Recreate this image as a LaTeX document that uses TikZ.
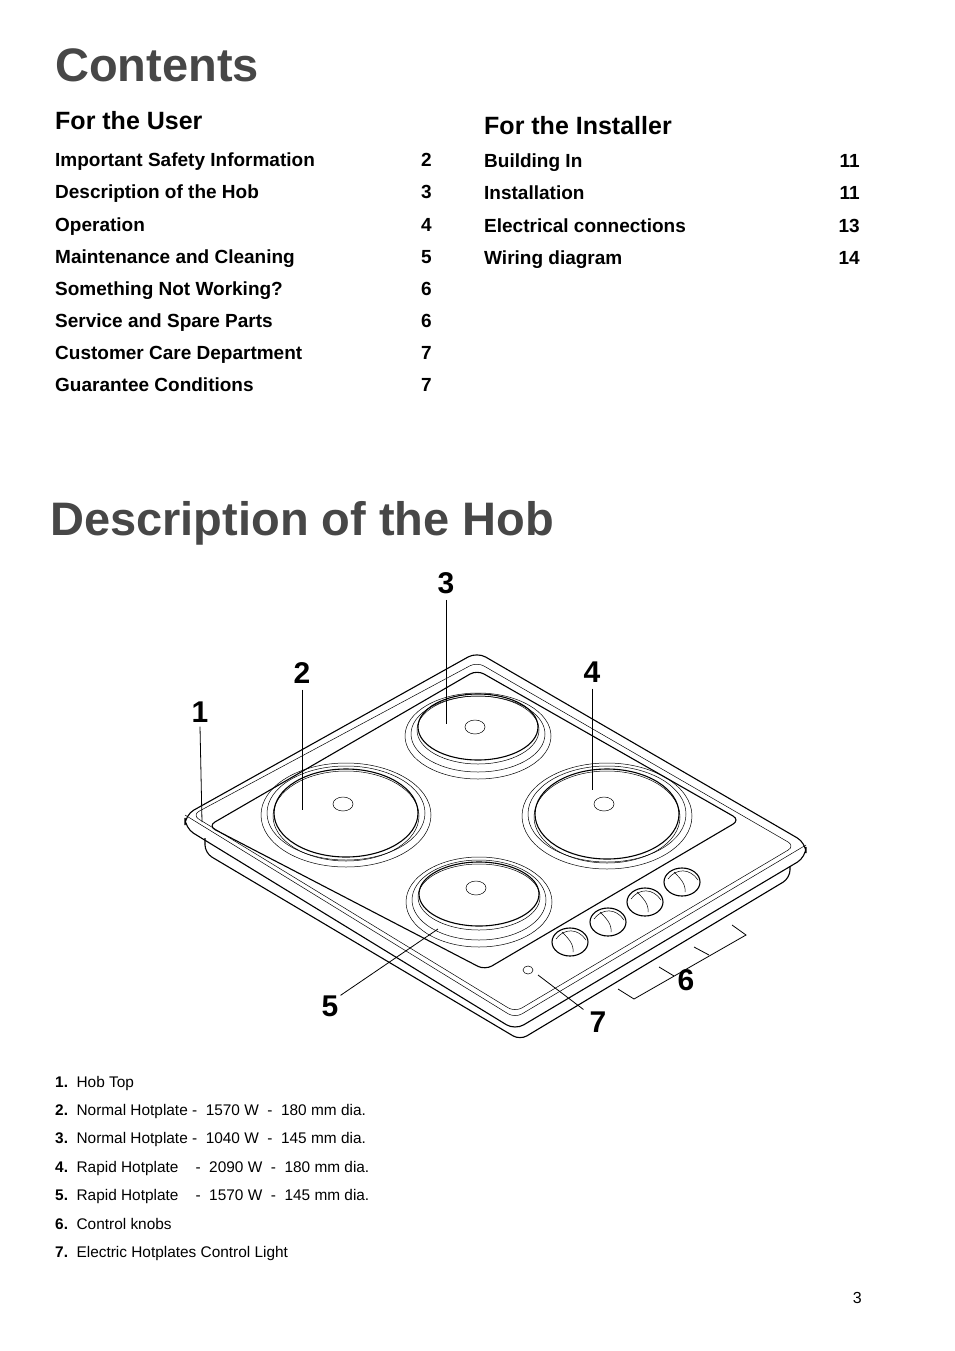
\documentclass[tikz,border=0pt]{standalone}
\usepackage{fontspec}
\setmainfont{Liberation Sans}
\begin{document}
\begin{tikzpicture}[x=1pt,y=-1pt,
  title/.style={anchor=base west,inner sep=0,font=\fontsize{47}{47}\selectfont\bfseries,text=black!72},
  head/.style={anchor=base west,inner sep=0,font=\fontsize{25}{25}\selectfont\bfseries},
  ent/.style={anchor=base west,inner sep=0,font=\fontsize{19}{19}\selectfont\bfseries},
  num/.style={anchor=base east,inner sep=0,font=\fontsize{19}{19}\selectfont\bfseries},
  leg/.style={anchor=base west,inner sep=0,font=\fontsize{15.4}{15}\selectfont},
  lab/.style={font=\fontsize{30}{30}\selectfont\bfseries,inner sep=0},
  hl/.style={line width=0.5pt},
  ln/.style={line width=1.1pt}]
\useasboundingbox (0,0) rectangle (954,1351);
\node[title] (c) at (55,82) {Contents};
\node[head] (u) at (55,130) {For the User};
\node[head] (i) at (484,135) {For the Installer};
\foreach \t/\n [count=\k] in {Important Safety Information/2,Description of the Hob/3,Operation/4,Maintenance and Cleaning/5,Something Not Working?/6,Service and Spare Parts/6,Customer Care Department/7,Guarantee Conditions/7}{
  \node[ent] (ue\k) at (55,{161+32*(\k-1)+6}) {\t};
  \node[num] (un\k) at (432,{161+32*(\k-1)+6}) {\n};}
\foreach \t/\n [count=\k] in {Building In/11,Installation/11,Electrical connections/13,Wiring diagram/14}{
  \node[ent] (ie\k) at (484,{162+32*(\k-1)+6}) {\t};
  \node[num] (in\k) at (860,{162+32*(\k-1)+6}) {\n};}
\node[title] (d) at (50,535) {Description of the Hob};
% hob body
\draw[ln,rounded corners=8] (205,838) -- (205,853) -- (520,1040) -- (790,878) -- (790,866);
\draw[ln,rounded corners=10] (477,652) -- (806,843) -- (806,857) -- (515,1030) -- (185,828) -- (185,815) -- cycle;
\draw[hl,rounded corners=8] (185,815) -- (515,1018) -- (806,845);
\draw[hl,rounded corners=8] (477,662) -- (795,846) -- (515,1012) -- (192,815) -- cycle;
\draw[ln,rounded corners=8] (477,670) -- (740,820) -- (485,970) -- (208,826) -- cycle;
% hotplates
\foreach \cx/\cy/\ox/\oy/\iy/\ix/\iry/\sy in {478/736/73/43/727/60/33/727, 346/815/85/52/813/72/44/804, 607/816/85/53/814/72/45/804, 479/902/73/45/894/60/32/888}{
  \draw[hl] (\cx,\cy) ellipse [x radius=\ox,y radius=\oy];
  \draw[hl] (\cx,\cy-2) ellipse [x radius=\ox-6,y radius=\oy-5];
  \draw[hl] (\cx,\iy+3) ellipse [x radius=\ix+1,y radius=\iry+1];
  \draw[ln] (\cx,\iy) ellipse [x radius=\ix,y radius=\iry];
  \draw[hl] (\cx-3,\sy) ellipse [x radius=10,y radius=7];}
% knobs
\foreach \kx/\ky in {570/942,608/922,645/902,682/882}{
  \draw[ln,fill=white] (\kx,\ky) ellipse [x radius=18,y radius=14];
  \draw[hl] (\kx-14,\ky-3) .. controls (\kx-6,\ky-14) and (\kx+8,\ky-14) .. (\kx+16,\ky-2);
  \draw[hl] (\kx-8,\ky-10) .. controls (\kx-2,\ky-4) and (\kx+4,\ky+2) .. (\kx+3,\ky+10);}
\draw[hl] (528,970) ellipse [x radius=5,y radius=4];
% labels
\node[lab] (l1) at (200,712) {1};
\node[lab] (l2) at (302,673) {2};
\node[lab] (l3) at (446,583) {3};
\node[lab] (l4) at (592,672) {4};
\node[lab] (l5) at (330,1006) {5};
\node[lab] (l6) at (686,980) {6};
\node[lab] (l7) at (598,1022) {7};
\coordinate (e1) at (202,822); \coordinate (e2) at (302,810);
\coordinate (e3) at (446,724); \coordinate (e4) at (592,790);
\coordinate (e5) at (438,929); \coordinate (e7) at (538,975);
\draw[line width=0.8pt] (l1.south) ++(0,4) -- (e1);
\draw[line width=0.8pt] (l2.south) ++(0,6) -- (e2);
\draw[line width=0.8pt] (l3.south) ++(0,6) -- (e3);
\draw[line width=0.8pt] (l4.south) ++(0,6) -- (e4);
\draw[line width=0.8pt] (l5.north east) ++(2,0) -- (e5);
\draw[line width=0.8pt] (l7.north west) ++(-6,-2) -- (e7);
\draw[line width=0.8pt] (618,989) -- (634,999) -- (746,935) -- (732,925);
\draw[line width=0.8pt] (659,967) -- (674,976) (694,947) -- (709,955);
% legend
\foreach \t [count=\k] in {Hob Top,Normal Hotplate -\ \ 1570 W\ \ -\ \ 180 mm dia.,Normal Hotplate -\ \ 1040 W\ \ -\ \ 145 mm dia.,Rapid Hotplate\ \ \ \ -\ \ 2090 W\ \ -\ \ 180 mm dia.,Rapid Hotplate\ \ \ \ -\ \ 1570 W\ \ -\ \ 145 mm dia.,Control knobs,Electric Hotplates Control Light}{
  \node[leg] (g\k) at (55,{1087+28.4*(\k-1)}) {\textbf{\k.}\ \ \t};}
\node[anchor=base east,inner sep=0,font=\fontsize{16}{16}\selectfont] (p) at (862,1303) {3};
\end{tikzpicture}
\end{document}
